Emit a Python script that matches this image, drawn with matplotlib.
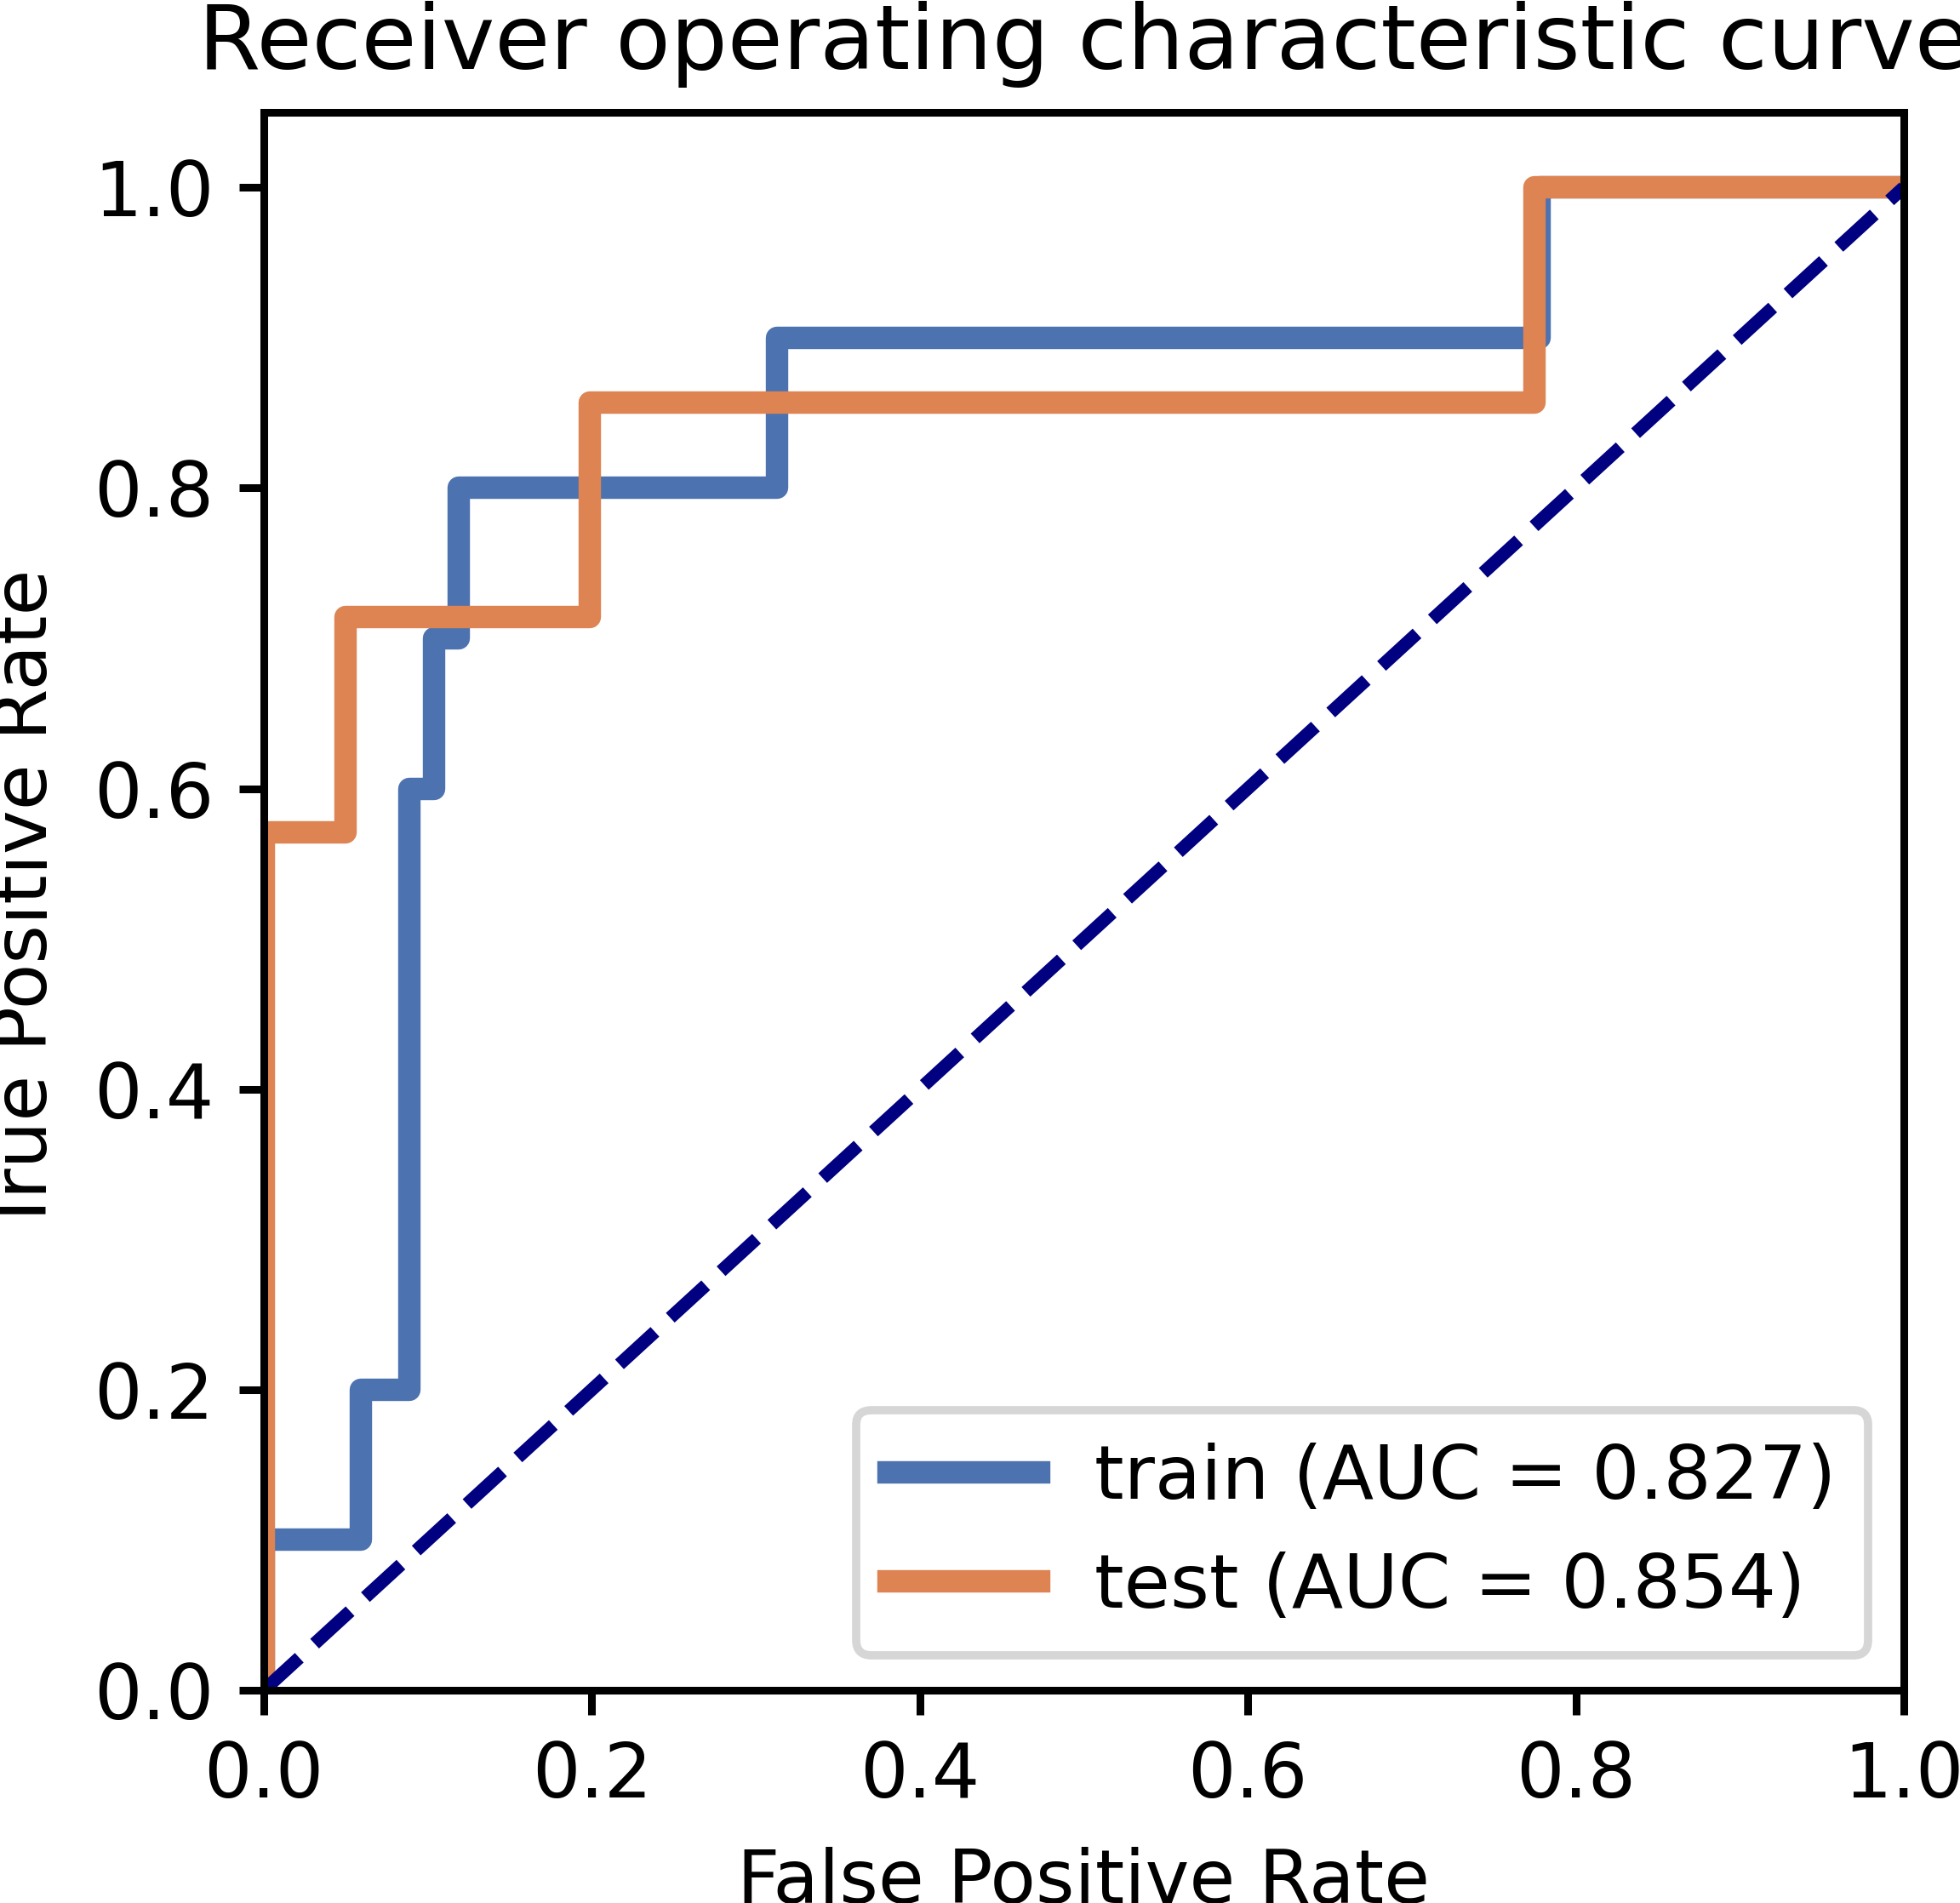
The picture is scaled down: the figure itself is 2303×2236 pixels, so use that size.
import matplotlib
matplotlib.use("Agg")
import matplotlib.pyplot as plt

# ---- data ----
train_fpr = [0.0, 0.0, 0.059, 0.059, 0.089, 0.089, 0.104, 0.104, 0.119, 0.119, 0.313, 0.313, 0.778, 0.778, 1.0]
train_tpr = [0.0, 0.1, 0.1, 0.2, 0.2, 0.6, 0.6, 0.7, 0.7, 0.8, 0.8, 0.9, 0.9, 1.0, 1.0]
test_fpr = [0.0, 0.0, 0.050, 0.050, 0.199, 0.199, 0.775, 0.775, 1.0]
test_tpr = [0.0, 0.571, 0.571, 0.714, 0.714, 0.857, 0.857, 1.0, 1.0]
train_auc = 0.827
test_auc = 0.854
chance = [0.0, 1.0]
xticks = [0.0, 0.2, 0.4, 0.6, 0.8, 1.0]
yticks = [0.0, 0.2, 0.4, 0.6, 0.8, 1.0]

plt.rcParams['font.family'] = ['DejaVu Sans']

fig = plt.figure(figsize=(23.03, 22.36), dpi=100)
ax = fig.add_axes([0.1346, 0.1118, 0.8367, 0.8292])

ax.plot(train_fpr, train_tpr, color='#4C72B0', lw=19, label=f'train (AUC = {train_auc:.3f})')
ax.plot(test_fpr, test_tpr, color='#DD8452', lw=19, label=f'test (AUC = {test_auc:.3f})')
ax.plot(chance, chance, color='navy', lw=11, linestyle='--')

ax.set_xlim(0.0, 1.0)
ax.set_ylim(0.0, 1.05)
ax.set_xticks(xticks)
ax.set_yticks(yticks)
ax.set_xticklabels([f'{v:.1f}' for v in xticks])
ax.set_yticklabels([f'{v:.1f}' for v in yticks])

for s in ax.spines.values():
    s.set_linewidth(6.5)
ax.tick_params(axis='both', direction='out', length=21, width=6.5, labelsize=64, pad=21)

ax.set_xlabel('False Positive Rate', fontsize=63, labelpad=28)
ax.set_ylabel('True Positive Rate', fontsize=63, labelpad=27)
ax.set_title('Receiver operating characteristic curve', fontsize=76, pad=37)

leg = ax.legend(loc='lower right', fontsize=63.5, handlelength=2.0, handletextpad=0.74,
                labelspacing=0.5, borderpad=0.43, borderaxespad=0.47)
leg.get_frame().set_linewidth(7)
leg.get_frame().set_edgecolor('#cccccc')

fig.savefig('out.png', dpi=100)
